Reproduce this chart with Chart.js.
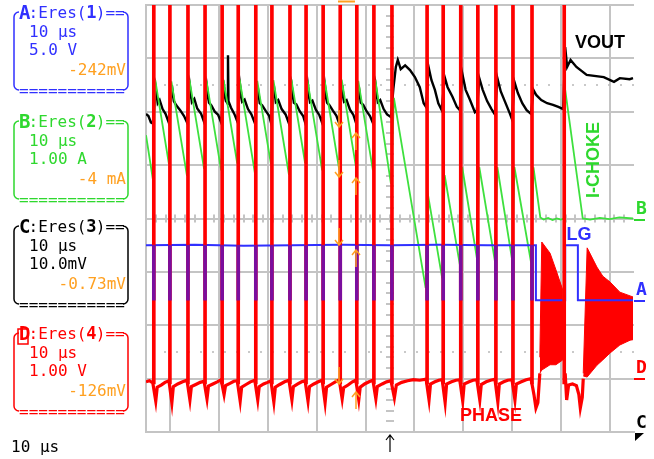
<!DOCTYPE html>
<html>
<head>
<meta charset="utf-8">
<script src="https://cdn.jsdelivr.net/npm/chart.js@4.4.0/dist/chart.umd.min.js"></script>
<style>
  html, body { margin: 0; padding: 0; background: #fff; }
  #wrap { position: relative; width: 654px; height: 459px; }
</style>
</head>
<body>
<div id="wrap"><canvas id="scope"></canvas></div>
<script>
// time in us (10 us/div, trigger at 0), amplitude in screen divisions
const pulseTimes = [-48.4, -45.1, -41.4, -37.9, -34.4, -31.1, -27.5, -24.2, -20.5, -17.2, -13.7,
  -10.2, -6.8, -3.3, 0.4, 7.6, 10.9, 14.5, 18.0, 21.7, 25.2, 29.1, 35.7];

// VOUT (channel C)
const vout = [[-50,1.96],[-49.5,1.92],[-49.0,1.80],[-48.6,1.78],
  [-48.0,2.44],[-47.6,2.16],[-47.2,2.22],[-46.6,2.05],[-46.0,1.96],[-45.3,1.79],
  [-44.7,2.50],[-44.3,2.20],[-43.8,2.12],[-43.0,2.03],[-42.2,1.92],[-41.6,1.80],
  [-41.0,2.48],[-40.6,2.18],[-40.1,2.24],[-39.5,2.06],[-38.7,1.96],[-38.1,1.81],
  [-37.5,2.46],[-37.1,2.17],[-36.6,2.12],[-35.9,2.00],[-35.2,1.94],[-34.6,1.80],
  [-34.0,2.45],[-33.6,2.20],[-33.25,2.15],[-33.2,3.06],[-33.1,2.20],[-32.6,2.08],[-31.9,1.96],[-31.3,1.82],
  [-30.7,2.48],[-30.3,2.19],[-29.8,2.23],[-29.1,2.05],[-28.4,1.95],[-27.7,1.79],
  [-27.1,2.47],[-26.7,2.16],[-26.2,2.12],[-25.5,2.02],[-24.8,1.93],[-24.4,1.80],
  [-23.8,2.49],[-23.4,2.18],[-22.9,2.22],[-22.2,2.05],[-21.4,1.95],[-20.7,1.78],
  [-20.1,2.46],[-19.7,2.17],[-19.2,2.14],[-18.5,2.01],[-17.8,1.92],[-17.4,1.80],
  [-16.8,2.48],[-16.4,2.18],[-15.9,2.21],[-15.2,2.04],[-14.5,1.94],[-13.9,1.79],
  [-13.3,2.47],[-12.9,2.17],[-12.4,2.12],[-11.7,2.02],[-11.0,1.93],[-10.4,1.78],
  [-9.8,2.50],[-9.4,2.19],[-8.9,2.22],[-8.2,2.04],[-7.5,1.94],[-7.0,1.80],
  [-6.4,2.48],[-6.0,2.17],[-5.5,2.13],[-4.8,2.01],[-4.1,1.92],[-3.5,1.79],
  [-2.9,2.47],[-2.5,2.18],[-2.0,2.22],[-1.3,2.05],[-0.6,1.95],[0.2,1.90],
  [0.7,2.44],[1.2,2.84],[1.6,2.97],[2.2,2.80],[3.1,2.87],[4.1,2.78],[5.1,2.65],[6.1,2.46],[6.9,2.16],[7.4,2.09],
  [7.9,2.84],[8.5,2.59],[9.2,2.41],[9.9,2.16],[10.6,2.03],
  [11.2,2.65],[11.8,2.46],[12.8,2.28],[13.7,2.09],[14.3,2.03],
  [14.8,2.72],[15.5,2.41],[16.4,2.22],[17.4,1.99],[17.8,2.02],
  [18.3,2.63],[19.0,2.41],[19.9,2.20],[20.8,2.05],[21.5,1.95],
  [22.0,2.63],[22.7,2.38],[23.6,2.18],[24.5,1.98],[25.0,1.86],
  [25.5,2.56],[26.2,2.35],[27.1,2.16],[28.0,2.03],[28.9,1.96],
  [29.4,2.41],[30.0,2.31],[31.0,2.22],[32.2,2.16],[33.4,2.13],[34.5,2.09],[35.5,2.05],
  [35.9,3.21],[36.3,2.84],[37.0,2.97],[38.2,2.84],[40.3,2.69],[43.8,2.65],[45.9,2.56],[47.1,2.63],[49.1,2.61],[49.8,2.63]];

// I-CHOKE (channel B)
const iChoke = [[-50,1.56],[-48.6,0.74],[-48.1,2.59],[-45.3,1.02],[-44.8,2.57],[-41.6,0.80],[-41.1,2.60],
  [-38.1,0.93],[-37.6,2.58],[-34.6,0.90],[-34.1,2.59],[-31.3,1.03],[-30.8,2.60],[-27.7,0.86],[-27.2,2.58],
  [-24.4,1.02],[-23.9,2.59],[-20.7,0.82],[-20.2,2.60],[-17.4,1.04],[-16.9,2.58],[-13.9,0.90],[-13.4,2.59],
  [-10.4,0.91],[-9.9,2.60],[-7.0,0.98],[-6.5,2.58],[-3.5,0.90],[-3.0,2.59],[0.2,0.65],[0.8,2.26],
  [7.3,-1.30],[7.9,0.38],[10.7,-1.12],[11.2,0.81],[14.3,-0.86],[14.8,0.96],[17.8,-0.74],[18.3,0.96],
  [21.5,-0.80],[22.0,0.96],[25.0,-0.76],[25.5,0.96],[28.9,-0.82],[29.4,0.96],[30.8,0.02],[31.5,-0.02],
  [32.4,0.01],[33.3,-0.03],[34.2,0.0],[35.0,-0.02],[35.6,0.0],[35.9,2.41],[39.5,0.0],[41.0,-0.02],
  [43.0,0.01],[45.0,-0.01],[47.0,0.02],[49.8,0.0]];

// LG (channel A)
const lg = [[-50,-0.50],[-40,-0.49],[-30,-0.51],[-20,-0.50],[-10,-0.49],[0,-0.50],[10,-0.49],[20,-0.50],
  [29.9,-0.50],[29.9,-1.53],[35.9,-1.53],[35.9,-0.50],[38.5,-0.50],[38.5,-1.53],[49.8,-1.53]];
const lgLow = -1.53, lgHigh = -0.50;

// PHASE (channel D) baseline between pulses
const phase = [[-50,-3.06],[-49.3,-3.04],[-48.6,-3.08],
  [-48.0,-3.42],[-47.7,-3.16],[-46.9,-3.12],[-46.1,-3.07],[-45.3,-3.04],
  [-44.7,-3.45],[-44.4,-3.15],[-43.5,-3.10],[-42.5,-3.06],[-41.6,-3.03],
  [-41.0,-3.40],[-40.7,-3.15],[-39.8,-3.11],[-38.9,-3.07],[-38.1,-3.05],
  [-37.5,-3.38],[-37.2,-3.14],[-36.3,-3.10],[-35.4,-3.06],[-34.6,-3.02],
  [-34.0,-3.30],[-33.7,-3.13],[-32.8,-3.09],[-32.0,-3.05],[-31.3,-3.04],
  [-30.7,-3.42],[-30.4,-3.16],[-29.5,-3.11],[-28.6,-3.06],[-27.7,-3.03],
  [-27.1,-3.40],[-26.8,-3.15],[-25.9,-3.10],[-25.1,-3.07],[-24.4,-3.04],
  [-23.8,-3.44],[-23.5,-3.16],[-22.6,-3.11],[-21.6,-3.06],[-20.7,-3.03],
  [-20.1,-3.40],[-19.8,-3.15],[-18.9,-3.10],[-18.1,-3.06],[-17.4,-3.04],
  [-16.8,-3.42],[-16.5,-3.15],[-15.6,-3.10],[-14.7,-3.06],[-13.9,-3.03],
  [-13.3,-3.45],[-13.0,-3.16],[-12.1,-3.11],[-11.2,-3.06],[-10.4,-3.02],
  [-9.8,-3.38],[-9.5,-3.17],[-8.6,-3.12],[-7.7,-3.06],[-7.0,-3.03],
  [-6.4,-3.40],[-6.1,-3.16],[-5.2,-3.10],[-4.3,-3.06],[-3.5,-3.03],
  [-2.9,-3.38],[-2.6,-3.15],[-1.6,-3.10],[-0.7,-3.06],[0.2,-3.04],
  [0.9,-3.36],[1.3,-3.12],[2.4,-3.07],[3.6,-3.04],[4.8,-3.02],[6.1,-3.03],[7.4,-3.01],
  [8.0,-3.40],[8.3,-3.10],[9.2,-3.06],[10.0,-3.03],[10.7,-3.02],
  [11.3,-3.45],[11.6,-3.10],[12.6,-3.06],[13.5,-3.03],[14.3,-3.02],
  [14.9,-3.42],[15.2,-3.10],[16.2,-3.06],[17.0,-3.03],[17.8,-3.02],
  [18.4,-3.40],[18.7,-3.11],[19.7,-3.06],[20.6,-3.03],[21.5,-3.01],
  [22.1,-3.44],[22.4,-3.10],[23.3,-3.06],[24.1,-3.03],[25.0,-3.02],
  [25.6,-3.40],[25.9,-3.10],[26.9,-3.06],[27.9,-3.02],[28.9,-3.00],
  [29.5,-3.30],[29.9,-3.55],[30.3,-3.45],[30.7,-2.90],[31.0,null],
  [35.9,-2.90],[36.2,-3.40],[36.6,-3.12],[37.4,-3.10],[38.2,-3.13],[38.7,-3.30],[39.0,-3.55],[39.4,-3.35],[39.6,-3.00]];
const phaseLow = -3.10, phaseTop = 4.5;

// ringing bursts after the pulse train stops: x, upper envelope, lower envelope
const burst1X = [30.7, 31.1, 32.8, 34.0, 35.4, 35.6];
const burst1Hi = [-2.60, -0.44, -0.65, -0.96, -1.34, -2.60];
const burst1Lo = [-2.90, -2.84, -2.74, -2.74, -2.65, -2.60];
const burst2X = [39.6, 40.4, 42.4, 43.6, 45.1, 47.1, 49.2, 49.8];
const burst2Hi = [-2.90, -0.55, -0.91, -1.08, -1.19, -1.38, -1.45, -1.47];
const burst2Lo = [-2.95, -2.97, -2.75, -2.65, -2.52, -2.37, -2.28, -2.27];

// channel info boxes on the left
const chLetters = ['A', 'B', 'C', 'D'];
const chNums = ['1', '2', '3', '4'];
const chTimebase = ['10 μs', '10 μs', '10 μs', '10 μs'];
const chScale = ['5.0 V', '1.00 A', '10.0mV', '1.00 V'];
const chOffset = ['-242mV', '-4 mA', '-0.73mV', '-126mV'];

const RED = '#ff0000', GREEN = '#3ee03e', BLUE = '#3030ff', PURPLE = '#7a0e9e', ORANGE = '#ffa020';
const pts = arr => arr.map(p => ({ x: p[0], y: p[1] }));
const band = (xs, ys) => xs.map((x, i) => ({ x: x, y: ys[i] }));

function arrow(ctx, x, y1, y2, up) {
  ctx.beginPath();
  ctx.moveTo(x, y1); ctx.lineTo(x, y2);
  const hy = up ? y1 : y2, d = up ? 5 : -5;
  ctx.moveTo(x - 4, hy + d); ctx.lineTo(x, hy); ctx.lineTo(x + 4, hy + d);
  ctx.stroke();
}

const scopeDecor = {
  id: 'scopeDecor',
  beforeDatasetsDraw(chart) {
    const { ctx, chartArea: a, scales: { x, y } } = chart;
    const cx = x.getPixelForValue(0), cy = y.getPixelForValue(0);
    ctx.save();
    ctx.strokeStyle = '#c4c4c4';
    ctx.lineWidth = 2;
    ctx.beginPath();
    for (let i = 1; i < 50; i++) {
      const px = Math.round(a.left + i * a.width / 50);
      ctx.moveTo(px, cy - 4); ctx.lineTo(px, cy + 4);
    }
    for (let i = 1; i < 40; i++) {
      const py = Math.round(a.top + i * a.height / 40);
      ctx.moveTo(cx - 4, py); ctx.lineTo(cx + 4, py);
    }
    ctx.stroke();
    ctx.setLineDash([2, 10]);
    ctx.strokeStyle = '#b8b8b8';
    ctx.lineWidth = 1.5;
    [2.5, -2.5].forEach(v => {
      const py = Math.round(y.getPixelForValue(v));
      ctx.beginPath(); ctx.moveTo(a.left + 6, py); ctx.lineTo(a.right, py); ctx.stroke();
    });
    ctx.restore();
  },
  afterDraw(chart) {
    const { ctx, chartArea: a, scales: { x, y } } = chart;
    ctx.save();
    // trace names
    ctx.font = 'bold 18px "Liberation Sans", Arial, sans-serif';
    ctx.textAlign = 'center';
    ctx.textBaseline = 'middle';
    ctx.fillStyle = '#000'; ctx.fillText('VOUT', 600, 43);
    ctx.fillStyle = BLUE; ctx.fillText('LG', 579, 235);
    ctx.fillStyle = RED; ctx.fillText('PHASE', 491, 416);
    ctx.save();
    ctx.translate(594, 160); ctx.rotate(-Math.PI / 2);
    ctx.fillStyle = '#2ed82e'; ctx.fillText('I-CHOKE', 0, 0);
    ctx.restore();

    // ground markers on the right edge
    ctx.font = 'bold 18px "DejaVu Sans Mono", monospace';
    ctx.textAlign = 'left';
    ctx.textBaseline = 'alphabetic';
    const marks = [['B', '#2ed82e', 0], ['A', BLUE, lgLow], ['D', RED, -2.98]];
    marks.forEach(m => {
      const py = Math.round(y.getPixelForValue(m[2]));
      ctx.fillStyle = m[1]; ctx.strokeStyle = m[1]; ctx.lineWidth = 2;
      ctx.fillText(m[0], a.right + 2, py - 5);
      ctx.beginPath(); ctx.moveTo(a.right, py + 1); ctx.lineTo(a.right + 11, py + 1); ctx.stroke();
    });
    ctx.fillStyle = '#000';
    ctx.fillText('C', a.right + 2, a.bottom - 4);
    ctx.beginPath();
    ctx.moveTo(a.right + 1, a.bottom + 1); ctx.lineTo(a.right + 10, a.bottom + 1); ctx.lineTo(a.right + 1, a.bottom + 9);
    ctx.closePath(); ctx.fill();

    // cursor arrows
    ctx.strokeStyle = ORANGE; ctx.lineWidth = 1.5;
    [[110, 133], [160, 178], [228, 250], [367, 392]].forEach(c => {
      arrow(ctx, 339, c[0], c[0] + 17, false);
      arrow(ctx, 356, c[1], c[1] + 17, true);
    });
    ctx.lineWidth = 2;
    ctx.beginPath(); ctx.moveTo(338, 1.5); ctx.lineTo(355, 1.5); ctx.stroke();

    // trigger position
    ctx.strokeStyle = '#000'; ctx.lineWidth = 1.2;
    arrow(ctx, Math.round(x.getPixelForValue(0)), a.bottom + 3, a.bottom + 20, true);

    // channel boxes
    const tops = [0, 109, 214, 321];
    const cols = [BLUE, '#2ed82e', '#000', RED];
    const cw = 9.6;
    tops.forEach((t, i) => {
      const col = cols[i];
      ctx.strokeStyle = col; ctx.fillStyle = col; ctx.lineWidth = 1.5;
      ctx.beginPath();
      ctx.moveTo(19, t + 12); ctx.arcTo(14, t + 12, 14, t + 18, 5);
      ctx.lineTo(14, t + 85); ctx.arcTo(14, t + 90, 19, t + 90, 5);
      ctx.moveTo(124, t + 12); ctx.arcTo(128, t + 12, 128, t + 18, 5);
      ctx.lineTo(128, t + 85); ctx.arcTo(128, t + 90, 123, t + 90, 5);
      ctx.stroke();
      ctx.textAlign = 'left';
      if (i === 3) { ctx.strokeRect(18, t + 8, 10, 15); }
      ctx.font = 'bold 19px "DejaVu Sans Mono", monospace';
      ctx.fillText(chLetters[i], 19, t + 19);
      ctx.font = '16px "DejaVu Sans Mono", monospace';
      ctx.fillText(':Eres(', 19 + cw, t + 18);
      ctx.font = 'bold 17px "DejaVu Sans Mono", monospace';
      ctx.fillText(chNums[i], 19 + 7 * cw, t + 18);
      ctx.font = '16px "DejaVu Sans Mono", monospace';
      ctx.fillText(')==', 19 + 8 * cw, t + 18);
      ctx.fillText(chTimebase[i], 29, t + 37);
      ctx.fillText(chScale[i], 29, t + 55);
      ctx.fillText('===========', 19, t + 96);
      ctx.fillStyle = ORANGE;
      ctx.textAlign = 'right';
      ctx.fillText(chOffset[i], 126, t + 75);
    });
    ctx.fillStyle = '#000';
    ctx.textAlign = 'left';
    ctx.font = '16px "DejaVu Sans Mono", monospace';
    ctx.fillText('10 μs', 11, 452);
    ctx.restore();
  }
};

const gridStyle = { color: '#c4c4c4', lineWidth: 2, drawTicks: false };
const borderStyle = { color: '#c4c4c4', width: 2 };

new Chart(document.getElementById('scope'), {
  type: 'line',
  data: {
    datasets: [
      { type: 'bar', label: 'LG/PHASE overlap', order: 0, grouped: false, barThickness: 3,
        data: pulseTimes.slice(0, -1).map(t => ({ x: t, y: [lgLow, lgHigh] })), backgroundColor: PURPLE },
      { type: 'bar', label: 'PHASE pulses', order: 1, grouped: false, barThickness: 3,
        data: pulseTimes.map(t => ({ x: t, y: [phaseLow, phaseTop] })), backgroundColor: RED },
      { label: 'LG', order: 2, data: pts(lg), borderColor: BLUE, borderWidth: 2 },
      { label: 'PHASE', order: 3, data: pts(phase), borderColor: RED, borderWidth: 3.2, spanGaps: false },
      { label: 'burst 1 hi', order: 4, data: band(burst1X, burst1Hi), borderColor: RED, borderWidth: 1,
        backgroundColor: RED, fill: '+1' },
      { label: 'burst 1 lo', order: 5, data: band(burst1X, burst1Lo), borderColor: RED, borderWidth: 1 },
      { label: 'burst 2 hi', order: 6, data: band(burst2X, burst2Hi), borderColor: RED, borderWidth: 1,
        backgroundColor: RED, fill: '+1' },
      { label: 'burst 2 lo', order: 7, data: band(burst2X, burst2Lo), borderColor: RED, borderWidth: 1 },
      { label: 'I-CHOKE', order: 8, data: pts(iChoke), borderColor: GREEN, borderWidth: 1.8 },
      { label: 'VOUT', order: 9, data: pts(vout), borderColor: '#000', borderWidth: 2.4 }
    ]
  },
  options: {
    responsive: true,
    maintainAspectRatio: false,
    animation: false,
    layout: { padding: { left: 146, top: 5, right: 20, bottom: 27 } },
    plugins: { legend: { display: false }, tooltip: { enabled: false } },
    elements: { point: { radius: 0 }, line: { tension: 0, fill: false } },
    scales: {
      x: { type: 'linear', min: -50, max: 50, offset: false,
        ticks: { display: false, stepSize: 10 }, grid: gridStyle, border: borderStyle,
        afterFit: s => { s.height = 0; } },
      y: { type: 'linear', min: -4, max: 4,
        ticks: { display: false, stepSize: 1 }, grid: gridStyle, border: borderStyle,
        afterFit: s => { s.width = 0; } }
    }
  },
  plugins: [scopeDecor]
});
</script>
</body>
</html>
